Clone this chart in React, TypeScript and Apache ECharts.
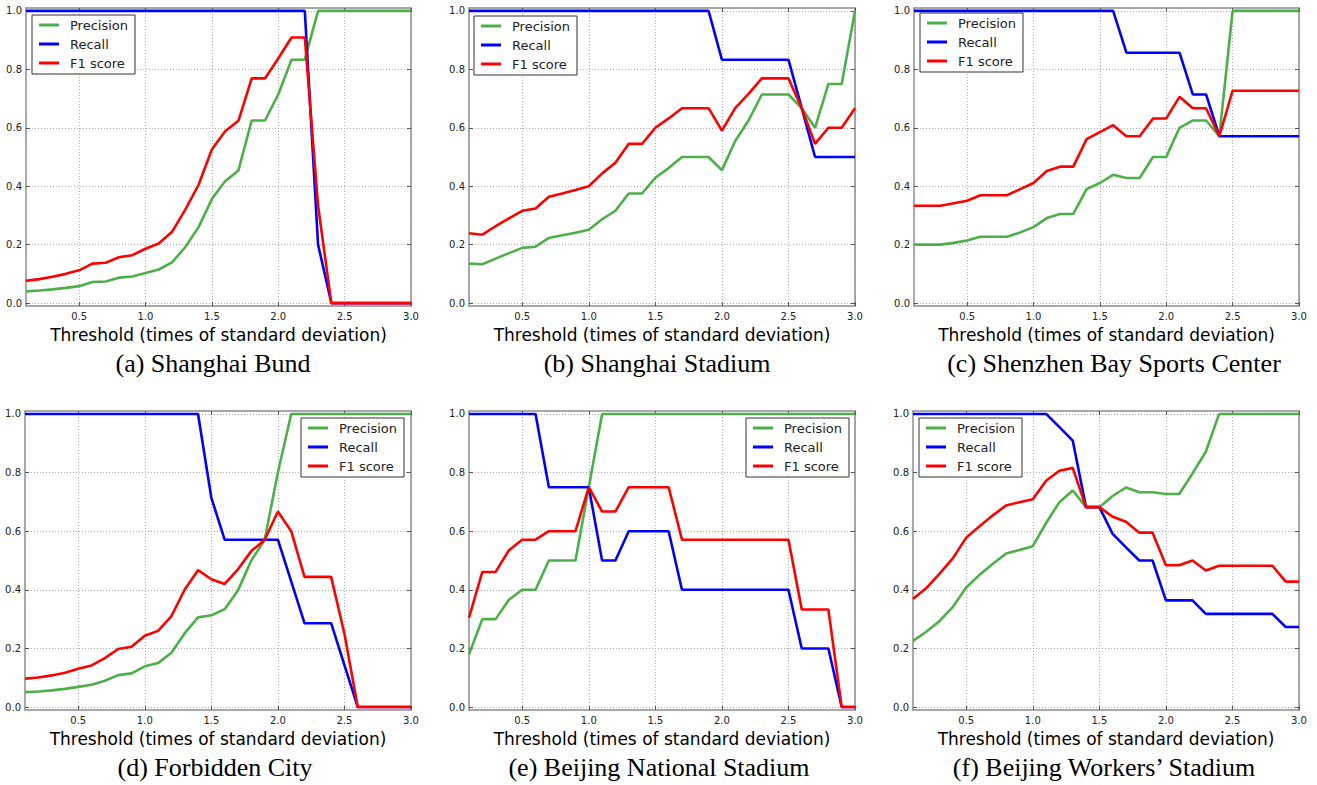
import React, { useEffect, useRef } from "react";
import * as echarts from "echarts";

const thresholds = [0.1, 0.2, 0.3, 0.4, 0.5, 0.6, 0.7, 0.8, 0.9, 1.0, 1.1, 1.2, 1.3, 1.4, 1.5, 1.6, 1.7, 1.8, 1.9, 2.0, 2.1, 2.2, 2.3, 2.4, 2.5, 2.6, 2.7, 2.8, 2.9, 3.0];
const xTicks = [0.5, 1.0, 1.5, 2.0, 2.5, 3.0];
const yTicks = [0.0, 0.2, 0.4, 0.6, 0.8, 1.0];
const seriesNames = ["Precision", "Recall", "F1 score"];
const captions = [
  "(a) Shanghai Bund",
  "(b) Shanghai Stadium",
  "(c) Shenzhen Bay Sports Center",
  "(d) Forbidden City",
  "(e) Beijing National Stadium",
  "(f) Beijing Workers\u2019 Stadium",
];
const xTitle = "Threshold (times of standard deviation)";

// (a) Shanghai Bund
const precisionA = [0.040, 0.043, 0.047, 0.052, 0.058, 0.072, 0.074, 0.087, 0.091, 0.103, 0.115, 0.139, 0.192, 0.260, 0.356, 0.417, 0.454, 0.625, 0.625, 0.714, 0.833, 0.833, 1, 1, 1, 1, 1, 1, 1, 1];
const recallA = [1, 1, 1, 1, 1, 1, 1, 1, 1, 1, 1, 1, 1, 1, 1, 1, 1, 1, 1, 1, 1, 1, 0.2, 0, 0, 0, 0, 0, 0, 0];
const f1A = [0.076, 0.082, 0.090, 0.100, 0.112, 0.135, 0.138, 0.157, 0.164, 0.186, 0.204, 0.244, 0.320, 0.405, 0.526, 0.588, 0.624, 0.769, 0.769, 0.837, 0.909, 0.909, 0.333, 0, 0, 0, 0, 0, 0, 0];

// (b) Shanghai Stadium
const precisionB = [0.135, 0.133, 0.152, 0.171, 0.189, 0.193, 0.223, 0.232, 0.241, 0.251, 0.287, 0.316, 0.375, 0.375, 0.429, 0.462, 0.500, 0.500, 0.500, 0.455, 0.555, 0.625, 0.714, 0.714, 0.714, 0.667, 0.600, 0.750, 0.750, 1.0];
const recallB = [1, 1, 1, 1, 1, 1, 1, 1, 1, 1, 1, 1, 1, 1, 1, 1, 1, 1, 1, 0.833, 0.833, 0.833, 0.833, 0.833, 0.833, 0.667, 0.5, 0.5, 0.5, 0.5];
const f1B = [0.239, 0.234, 0.263, 0.290, 0.316, 0.324, 0.364, 0.375, 0.387, 0.400, 0.444, 0.480, 0.545, 0.545, 0.600, 0.632, 0.667, 0.667, 0.667, 0.590, 0.667, 0.716, 0.769, 0.769, 0.769, 0.667, 0.545, 0.600, 0.600, 0.667];

// (c) Shenzhen Bay Sports Center
const precisionC = [0.200, 0.200, 0.200, 0.206, 0.214, 0.227, 0.227, 0.227, 0.242, 0.260, 0.291, 0.305, 0.305, 0.390, 0.411, 0.439, 0.428, 0.428, 0.500, 0.500, 0.600, 0.625, 0.625, 0.571, 1, 1, 1, 1, 1, 1];
const recallC = [1, 1, 1, 1, 1, 1, 1, 1, 1, 1, 1, 1, 1, 1, 1, 1, 0.857, 0.857, 0.857, 0.857, 0.857, 0.714, 0.714, 0.571, 0.571, 0.571, 0.571, 0.571, 0.571, 0.571];
const f1C = [0.333, 0.333, 0.333, 0.342, 0.350, 0.369, 0.369, 0.369, 0.390, 0.411, 0.452, 0.467, 0.467, 0.561, 0.585, 0.609, 0.571, 0.571, 0.632, 0.632, 0.706, 0.667, 0.667, 0.571, 0.727, 0.727, 0.727, 0.727, 0.727, 0.727];

// (d) Forbidden City
const precisionD = [0.051, 0.053, 0.057, 0.062, 0.069, 0.076, 0.090, 0.109, 0.115, 0.139, 0.150, 0.185, 0.252, 0.306, 0.313, 0.334, 0.398, 0.500, 0.570, 0.800, 1, 1, 1, 1, 1, 1, 1, 1, 1, 1];
const recallD = [1, 1, 1, 1, 1, 1, 1, 1, 1, 1, 1, 1, 1, 1, 0.714, 0.571, 0.571, 0.571, 0.571, 0.571, 0.429, 0.286, 0.286, 0.286, 0.143, 0, 0, 0, 0, 0];
const f1D = [0.097, 0.101, 0.108, 0.117, 0.131, 0.142, 0.167, 0.198, 0.206, 0.243, 0.260, 0.310, 0.401, 0.467, 0.436, 0.420, 0.470, 0.532, 0.570, 0.667, 0.600, 0.444, 0.444, 0.444, 0.250, 0, 0, 0, 0, 0];

// (e) Beijing National Stadium
const precisionE = [0.180, 0.300, 0.300, 0.366, 0.400, 0.400, 0.500, 0.500, 0.500, 0.750, 1, 1, 1, 1, 1, 1, 1, 1, 1, 1, 1, 1, 1, 1, 1, 1, 1, 1, 1, 1];
const recallE = [1, 1, 1, 1, 1, 1, 0.75, 0.75, 0.75, 0.75, 0.5, 0.5, 0.6, 0.6, 0.6, 0.6, 0.4, 0.4, 0.4, 0.4, 0.4, 0.4, 0.4, 0.4, 0.4, 0.2, 0.2, 0.2, 0, 0];
const f1E = [0.305, 0.461, 0.461, 0.535, 0.571, 0.571, 0.600, 0.600, 0.600, 0.750, 0.667, 0.667, 0.750, 0.750, 0.750, 0.750, 0.571, 0.571, 0.571, 0.571, 0.571, 0.571, 0.571, 0.571, 0.571, 0.333, 0.333, 0.333, 0, 0];

// (f) Beijing Workers' Stadium
const precisionF = [0.226, 0.257, 0.294, 0.342, 0.408, 0.451, 0.489, 0.524, 0.536, 0.549, 0.628, 0.699, 0.739, 0.682, 0.682, 0.720, 0.749, 0.733, 0.733, 0.727, 0.727, 0.797, 0.871, 1, 1, 1, 1, 1, 1, 1];
const recallF = [1, 1, 1, 1, 1, 1, 1, 1, 1, 1, 1, 0.955, 0.909, 0.682, 0.682, 0.591, 0.545, 0.5, 0.5, 0.364, 0.364, 0.364, 0.318, 0.318, 0.318, 0.318, 0.318, 0.318, 0.273, 0.273];
const f1F = [0.369, 0.406, 0.455, 0.508, 0.578, 0.617, 0.654, 0.688, 0.699, 0.709, 0.772, 0.806, 0.816, 0.682, 0.682, 0.649, 0.632, 0.595, 0.595, 0.484, 0.484, 0.500, 0.466, 0.482, 0.482, 0.482, 0.482, 0.482, 0.428, 0.428];

const panels = [
  [precisionA, recallA, f1A],
  [precisionB, recallB, f1B],
  [precisionC, recallC, f1C],
  [precisionD, recallD, f1D],
  [precisionE, recallE, f1E],
  [precisionF, recallF, f1F],
];

const colors = ["#4daf4a", "#0000ff", "#ff0000"];
const gridRects = [
  { left: 26, top: 8, width: 385, height: 298 },
  { left: 469, top: 8, width: 386, height: 298 },
  { left: 914, top: 8, width: 385, height: 298 },
  { left: 25, top: 411, width: 386, height: 299 },
  { left: 469, top: 411, width: 386, height: 299 },
  { left: 913, top: 411, width: 386, height: 299 },
];
const legendPos = [
  { left: 32, top: 15 },
  { left: 474, top: 16 },
  { left: 920, top: 13 },
  { left: 301, top: 418 },
  { left: 746, top: 418 },
  { left: 919, top: 418 },
];
const captionPos = [
  { x: 213, y: 363 },
  { x: 657, y: 363 },
  { x: 1114, y: 363 },
  { x: 215, y: 767 },
  { x: 659, y: 767 },
  { x: 1104, y: 767 },
];

const SANS = "DejaVu Sans";
const frameColor = "#8c8c8c";

export default function App() {
  const ref = useRef<HTMLDivElement>(null);
  useEffect(() => {
    document.body.style.margin = "0";
    if (!ref.current) return;
    const chart = echarts.init(ref.current, null, { renderer: "svg" });

    const grids = gridRects.map((g) => ({ ...g, containLabel: false }));
    const xAxes: any[] = [];
    const yAxes: any[] = [];
    gridRects.forEach((_, i) => {
      xAxes.push({
        type: "value",
        gridIndex: i,
        position: "bottom",
        min: 0.1,
        max: 3.0,
        name: xTitle,
        nameLocation: "middle",
        nameGap: 20,
        nameTextStyle: { fontFamily: SANS, fontSize: 17, color: "#000" },
        axisLine: { show: true, onZero: false, lineStyle: { color: frameColor, width: 1.5 } },
        axisTick: { show: true, inside: true, length: 4, customValues: xTicks, lineStyle: { color: "#555" } },
        axisLabel: {
          customValues: xTicks,
          margin: 5,
          fontFamily: SANS,
          fontSize: 10,
          color: "#222",
          formatter: (v: number) => v.toFixed(1),
        },
        splitLine: { show: true, lineStyle: { type: [1, 2], color: "#aaaaaa", width: 1 } },
      });
      yAxes.push({
        type: "value",
        gridIndex: i,
        position: "left",
        min: -0.01,
        max: 1.01,
        axisLine: { show: true, onZero: false, lineStyle: { color: frameColor, width: 1.5 } },
        axisTick: { show: true, inside: true, length: 4, customValues: yTicks, lineStyle: { color: "#555" } },
        axisLabel: {
          customValues: yTicks,
          margin: 4,
          fontFamily: SANS,
          fontSize: 10,
          color: "#222",
          formatter: (v: number) => v.toFixed(1),
        },
        splitLine: { show: true, lineStyle: { type: [1, 2], color: "#aaaaaa", width: 1 } },
      });
    });
    gridRects.forEach((_, i) => {
      xAxes.push({
        type: "value",
        gridIndex: i,
        position: "top",
        min: 0.1,
        max: 3.0,
        axisLine: { show: true, onZero: false, lineStyle: { color: frameColor, width: 1.5 } },
        axisTick: { show: true, inside: true, length: 4, customValues: xTicks, lineStyle: { color: "#555" } },
        axisLabel: { show: false },
        splitLine: { show: false },
      });
      yAxes.push({
        type: "value",
        gridIndex: i,
        position: "right",
        min: -0.01,
        max: 1.01,
        axisLine: { show: true, onZero: false, lineStyle: { color: frameColor, width: 1.5 } },
        axisTick: { show: true, inside: true, length: 4, customValues: yTicks, lineStyle: { color: "#555" } },
        axisLabel: { show: false },
        splitLine: { show: false },
      });
    });

    const series: any[] = [];
    panels.forEach((panel, i) => {
      panel.forEach((vals, k) => {
        series.push({
          type: "line",
          name: seriesNames[k],
          xAxisIndex: i,
          yAxisIndex: i,
          data: thresholds.map((t, j) => [t, vals[j]]),
          showSymbol: false,
          symbol: "none",
          lineStyle: { color: colors[k], width: 2.6 },
          itemStyle: { color: colors[k] },
          z: 3 + k,
        });
      });
    });

    const legends = legendPos.map((p) => ({
      ...p,
      orient: "vertical",
      data: seriesNames,
      icon: "rect",
      itemWidth: 20,
      itemHeight: 3,
      itemGap: 5,
      padding: [3, 7, 4, 7],
      backgroundColor: "#fff",
      borderColor: "#333",
      borderWidth: 1,
      borderRadius: 0,
      textStyle: { fontFamily: SANS, fontSize: 13, color: "#222", lineHeight: 14, padding: [0, 0, 0, 6] },
      selectedMode: false,
    }));

    const graphics = captions.map((c, i) => ({
      type: "text",
      x: captionPos[i].x,
      y: captionPos[i].y,
      style: {
        text: c,
        fontFamily: "Liberation Serif",
        fontSize: 26,
        fill: "#000",
        textAlign: "center",
        textVerticalAlign: "middle",
      },
    }));

    chart.setOption({
      animation: false,
      backgroundColor: "#fff",
      grid: grids,
      xAxis: xAxes,
      yAxis: yAxes,
      legend: legends,
      series,
      graphic: graphics,
    });
    return () => chart.dispose();
  }, []);
  return <div ref={ref} style={{ width: 1317, height: 785 }} />;
}
